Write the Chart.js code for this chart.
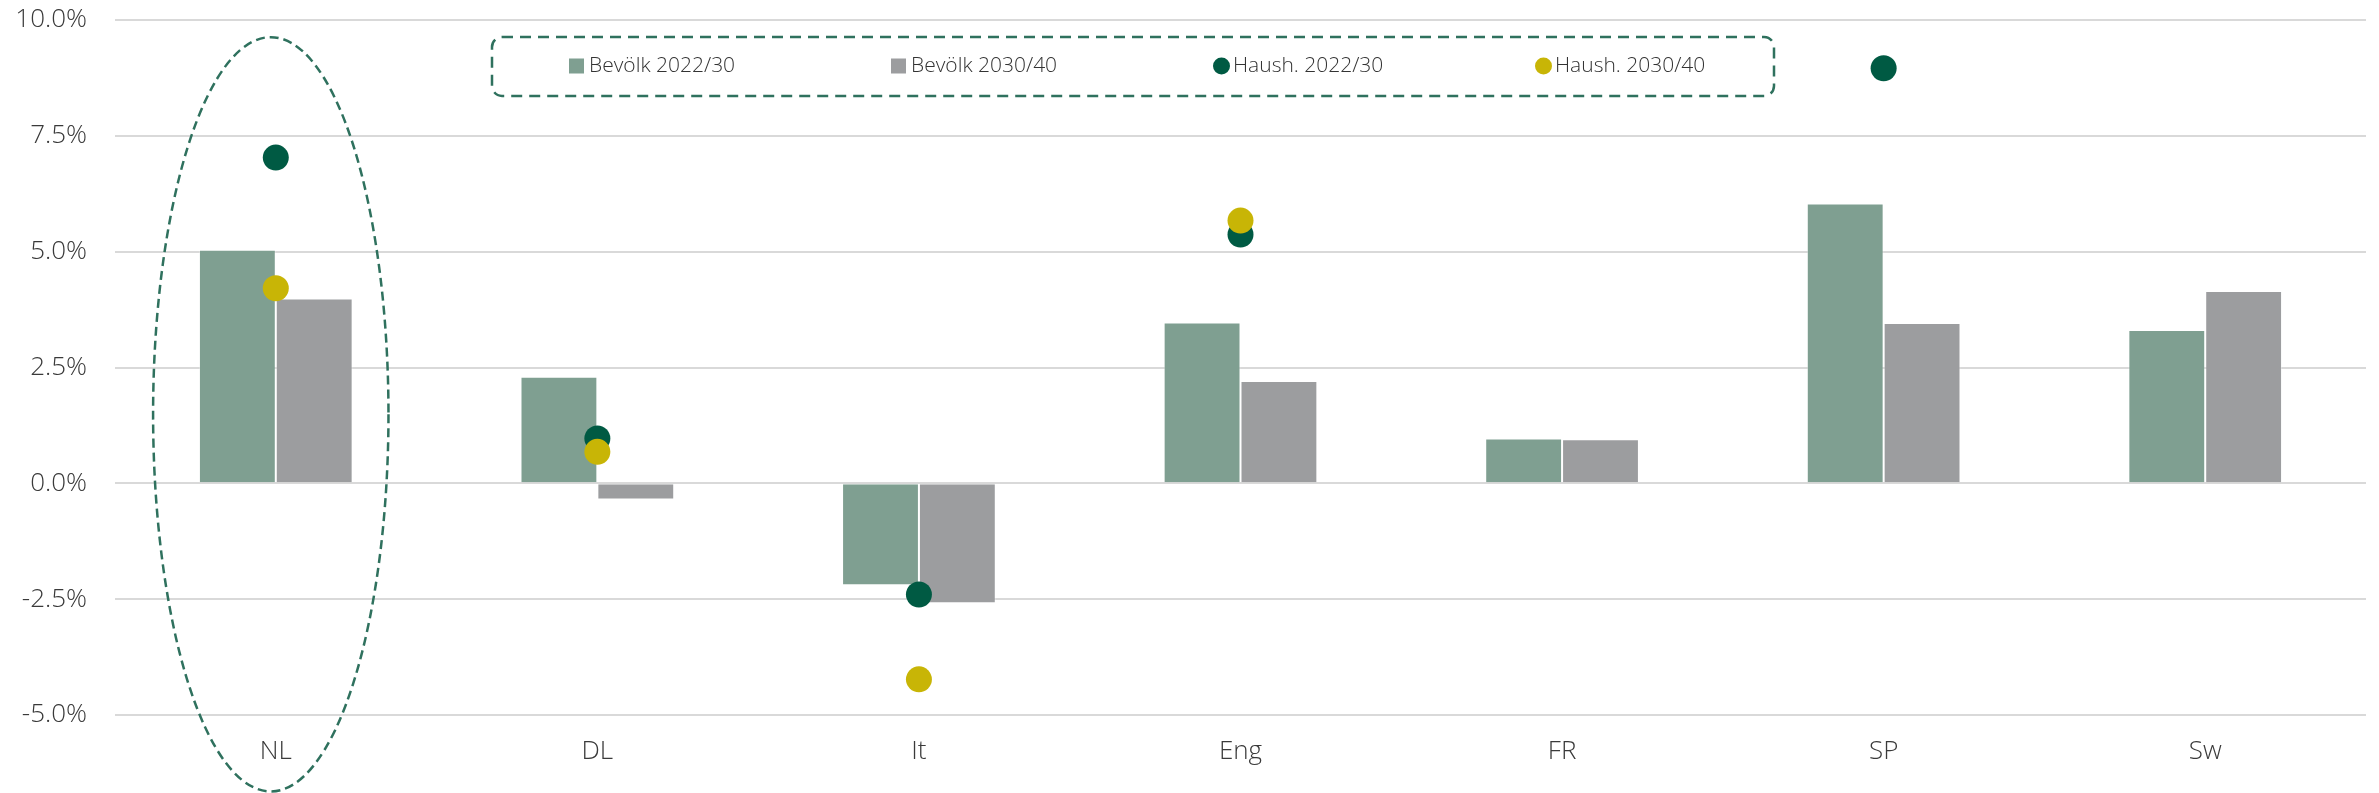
<!DOCTYPE html>
<html>
<head>
<meta charset="utf-8">
<script src="https://cdn.jsdelivr.net/npm/chart.js@4.4.1/dist/chart.umd.min.js"></script>
<style>
  html, body { margin: 0; padding: 0; background: #fff; }
  #wrap { width: 2379px; height: 793px; }
</style>
</head>
<body>
<div id="wrap"><canvas id="myChart" width="2379" height="793"></canvas></div>
<script>
// values in %
const categories = ['NL', 'DL', 'It', 'Eng', 'FR', 'SP', 'Sw']
const bevoelk2230 = [5.04, 2.30, -2.20, 3.47, 0.97, 6.04, 3.31]
const bevoelk3040 = [3.99, -0.35, -2.59, 2.21, 0.95, 3.46, 4.15]
const haush2230 = [7.03, 0.97, -2.40, 5.37, null, 8.96, null]
const haush3040 = [4.21, 0.68, -4.23, 5.67, null, null, null]
const yTicks = [-5, -2.5, 0, 2.5, 5, 7.5, 10]

const green = '#7f9f91'
const grey = '#9c9d9f'
const darkGreen = '#005a43'
const yellow = '#c8b506'
const accent = '#2f715e'
const font = '"Open Sans", "DejaVu Sans", sans-serif'

// dashed legend box, drawn by hand so the items sit evenly spaced
const boxLegend = {
    id: 'boxLegend',
    afterDraw(chart) {
        const ctx = chart.ctx
        ctx.save()
        ctx.strokeStyle = accent
        ctx.lineWidth = 2.5
        ctx.setLineDash([11, 7])
        ctx.beginPath()
        ctx.roundRect(492, 37, 1282, 59, 10)
        ctx.stroke()
        ctx.setLineDash([])

        ctx.font = '300 21px ' + font
        ctx.textBaseline = 'middle'
        const cy = 66
        const items = [0, 1, 2, 3]
        items.forEach((i) => {
            const ds = chart.data.datasets[i]
            const x = 569 + i * 322
            ctx.fillStyle = ds.backgroundColor
            if (ds.type === 'bar') {
                ctx.fillRect(x, cy - 7.5, 15, 15)
            } else {
                ctx.beginPath()
                ctx.arc(x + 8.5, cy, 8.5, 0, Math.PI * 2)
                ctx.fill()
            }
            ctx.fillStyle = '#333'
            ctx.fillText(ds.label, x + 20, cy)
        })
        ctx.restore()
    }
}

// dashed ellipse round the NL group
const nlEllipse = {
    id: 'nlEllipse',
    afterDraw(chart) {
        const x = chart.scales.x
        const y = chart.scales.y
        const catW = x.getPixelForValue(1) - x.getPixelForValue(0)
        const top = y.getPixelForValue(9.63)
        const bottom = y.getPixelForValue(-6.65)
        const ctx = chart.ctx
        ctx.save()
        ctx.strokeStyle = accent
        ctx.lineWidth = 2.5
        ctx.setLineDash([9, 5])
        ctx.beginPath()
        ctx.ellipse(x.getPixelForValue(0) - 5, (top + bottom) / 2, catW * 0.366, (bottom - top) / 2, 0, 0, Math.PI * 2)
        ctx.stroke()
        ctx.restore()
    }
}

const dotSet = (label, data, color, order) => ({
    type: 'line',
    label: label,
    data: data,
    showLine: false,
    backgroundColor: color,
    borderColor: color,
    borderWidth: 0,
    pointRadius: 13,
    pointHoverRadius: 13,
    order: order
})

new Chart(document.getElementById('myChart'), {
    data: {
        labels: categories,
        datasets: [
            {
                type: 'bar',
                label: 'Bevölk 2022/30',
                data: bevoelk2230,
                backgroundColor: green,
                borderColor: 'rgba(255,255,255,0.35)',
                borderWidth: 1,
                order: 2
            },
            {
                type: 'bar',
                label: 'Bevölk 2030/40',
                data: bevoelk3040,
                backgroundColor: grey,
                borderColor: 'rgba(255,255,255,0.35)',
                borderWidth: 1,
                order: 3
            },
            dotSet('Haush. 2022/30', haush2230, darkGreen, 1),
            dotSet('Haush. 2030/40', haush3040, yellow, 0)
        ]
    },
    options: {
        responsive: false,
        animation: false,
        devicePixelRatio: 1,
        layout: { padding: { top: 20, right: 7, left: 0, bottom: 0 } },
        datasets: {
            bar: { categoryPercentage: 0.478, barPercentage: 1 }
        },
        plugins: {
            legend: { display: false },
            tooltip: { enabled: false }
        },
        scales: {
            x: {
                offset: true,
                grid: { display: false, drawTicks: false },
                border: { display: false },
                ticks: {
                    padding: 21,
                    color: '#3a3a3a',
                    font: { family: font, size: 26, weight: 300 }
                },
                afterFit: (scale) => {
                    scale.height = 78
                    scale.paddingLeft = 0
                    scale.paddingRight = 0
                }
            },
            y: {
                min: -5,
                max: 10,
                afterBuildTicks: (scale) => { scale.ticks = yTicks.map(v => ({ value: v })) },
                grid: { color: '#d9d9d9', lineWidth: 2, drawTicks: false },
                border: { display: false },
                ticks: {
                    padding: 28,
                    color: '#3a3a3a',
                    font: { family: font, size: 26, weight: 300 },
                    callback: (v) => v.toFixed(1) + '%'
                },
                afterFit: (scale) => {
                    scale.width = 115
                    scale.paddingTop = 0
                    scale.paddingBottom = 0
                }
            }
        }
    },
    plugins: [boxLegend, nlEllipse]
})
</script>
</body>
</html>
